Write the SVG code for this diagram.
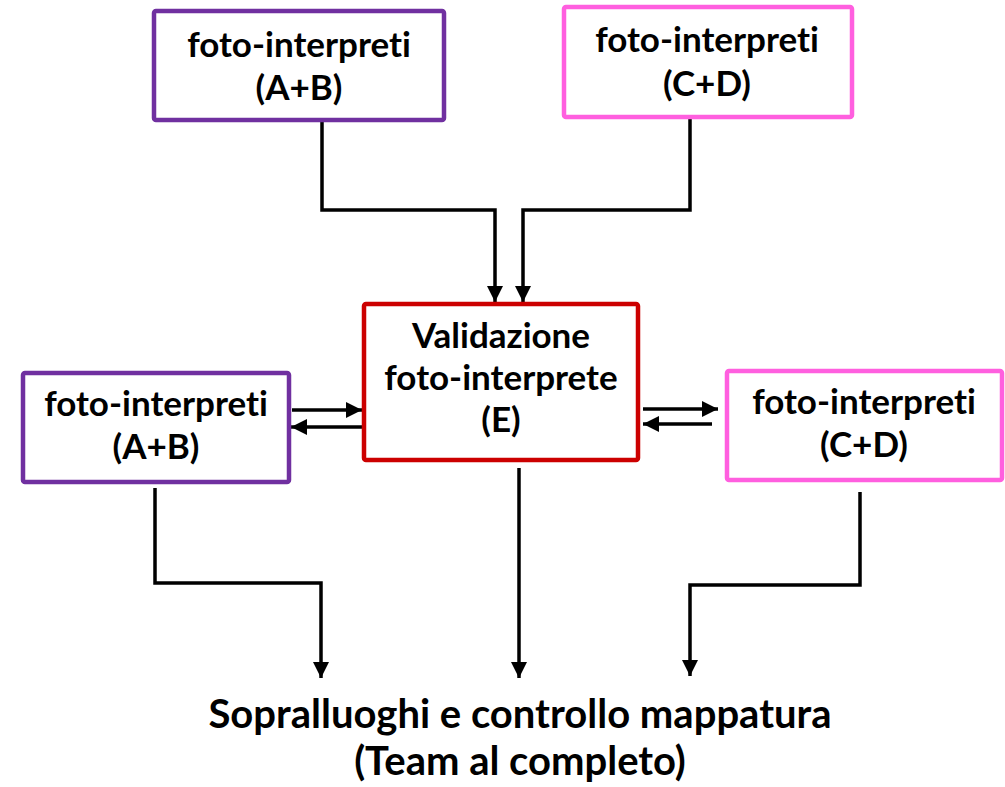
<svg xmlns="http://www.w3.org/2000/svg" width="1005" height="787" viewBox="0 0 1005 787">
<style>
.box{fill:#fff;stroke-width:4.5}
.p{stroke:#7030A0}
.k{stroke:#FF5FDF}
.r{stroke:#CC0000}
.t{font-family:Lato,"Liberation Sans",sans-serif;font-weight:bold;font-size:35px;fill:#000;text-anchor:middle;font-variant-ligatures:none}
.b{font-size:40px}
.c{fill:none;stroke:#000;stroke-width:3.5;marker-end:url(#ah)}
</style>
<defs>
<marker id="ah" markerUnits="userSpaceOnUse" markerWidth="18" markerHeight="18" viewBox="0 0 18 18" refX="16" refY="9" orient="auto">
<path d="M0,1 L16,9 L0,17 Z" fill="#000"/>
</marker>
</defs>
<g id="connectors">
<polyline class="c" points="322,120 322,210 495,210 495,302"/>
<polyline class="c" points="690,117 690,210 523,210 523,302"/>
<line class="c" x1="292" y1="410" x2="362" y2="410"/>
<line class="c" x1="362" y1="427" x2="291" y2="427"/>
<line class="c" x1="643" y1="409" x2="718" y2="409"/>
<line class="c" x1="712" y1="424" x2="643" y2="424"/>
<polyline class="c" points="155,488 155,583 321,583 321,678"/>
<line class="c" x1="519" y1="468" x2="519" y2="678"/>
<polyline class="c" points="860,492 860,585 690,585 690,676"/>
</g>
<g id="top-left">
<rect class="box p" x="154" y="11" width="290" height="109" rx="2"/>
<text class="t" x="299" y="57">foto-interpreti</text>
<text class="t" x="299" y="100">(A+B)</text>
</g>
<g id="top-right">
<rect class="box k" x="564" y="7" width="288" height="110" rx="2"/>
<text class="t" x="707" y="52">foto-interpreti</text>
<text class="t" x="707" y="96">(C+D)</text>
</g>
<g id="center">
<rect class="box r" x="364" y="304" width="274" height="156" rx="2"/>
<text class="t" x="501" y="348">Validazione</text>
<text class="t" x="501" y="390">foto-interprete</text>
<text class="t" x="501" y="432">(E)</text>
</g>
<g id="left">
<rect class="box p" x="23" y="373" width="266" height="109" rx="2"/>
<text class="t" x="156" y="416">foto-interpreti</text>
<text class="t" x="156" y="459">(A+B)</text>
</g>
<g id="right">
<rect class="box k" x="727" y="371" width="275" height="109" rx="2"/>
<text class="t" x="864" y="414">foto-interpreti</text>
<text class="t" x="864" y="457">(C+D)</text>
</g>
<g id="bottom">
<text class="t b" x="520" y="728">Sopralluoghi e controllo mappatura</text>
<text class="t b" x="520" y="775">(Team al completo)</text>
</g>
</svg>
